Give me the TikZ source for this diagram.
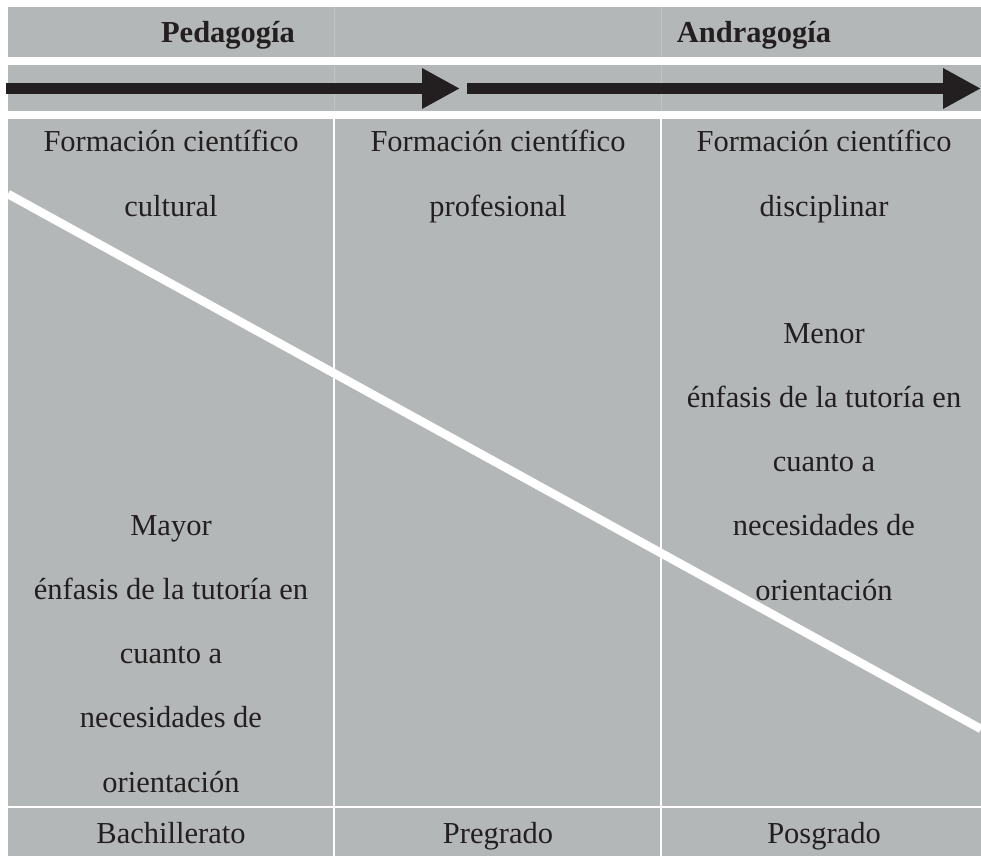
\documentclass[tikz,border=0pt]{standalone}
\usepackage{fontspec}
\setmainfont{Liberation Serif}
\usetikzlibrary{arrows.meta}
\definecolor{tabgray}{RGB}{180,183,184}
\definecolor{ink}{RGB}{35,31,32}
\tikzset{
  cell/.style={fill=tabgray,draw=none},
  celltext/.style={anchor=base,align=center,text=ink,inner sep=0pt,
    font=\fontsize{30.5}{64.2}\selectfont},
  headtext/.style={celltext,font=\fontsize{30.5}{36}\selectfont\bfseries},
  bigarrow/.style={draw=ink,line width=11pt,-{Triangle[length=38pt,width=38pt]}},
  sepline/.style={white,line width=2pt},
  faintline/.style={tabgray!82!white,line width=1pt},
}

\begin{document}
\begin{tikzpicture}[x=1pt,y=-1pt]
\useasboundingbox (0,0) rectangle (981,856);
\fill[white] (0,0) rectangle (981,856);
% rows
\fill[cell] (8,7) rectangle (981,57);
\fill[cell] (8,65) rectangle (981,111);
\fill[cell] (8,119) rectangle (981,806);
\fill[cell] (8,808) rectangle (981,856);
% columns
\draw[faintline] (334,7) -- (334,57);
\draw[faintline] (334,65) -- (334,111);
\draw[faintline] (661,7) -- (661,57);
\draw[faintline] (661,65) -- (661,111);
\draw[sepline] (334,119) -- (334,856);
\draw[sepline] (661,119) -- (661,856);
% diagonal
\begin{scope}
\clip (8,119) rectangle (981,806);
\draw[white,line width=8.5pt] (8,194) -- (981,729);
\end{scope}
% heading
\node[headtext] (ped) at (228,43) {Pedagogía};
\node[headtext] (andra) at (754,43) {Andragogía};
% arrows
\coordinate (arrAs) at (6,88.5);
\coordinate (arrAe) at (460,88.5);
\coordinate (arrBs) at (467,88.5);
\coordinate (arrBe) at (981,88.5);
\draw[bigarrow] (arrAs) -- (arrAe);
\draw[bigarrow] (arrBs) -- (arrBe);
% formacion (base = last line)
\node[celltext] (formA) at (171,216) {Formación científico\\cultural};
\node[celltext] (formB) at (498,216) {Formación científico\\profesional};
\node[celltext] (formC) at (824,216) {Formación científico\\disciplinar};
% enfasis
\node[celltext] (mayor) at (171,792) {Mayor\\énfasis de la tutoría en\\cuanto a\\necesidades de\\orientación};
\node[celltext] (menor) at (824,600) {Menor\\énfasis de la tutoría en\\cuanto a\\necesidades de\\orientación};
% niveles
\node[celltext] (bach) at (171,843) {Bachillerato};
\node[celltext] (pregr) at (498,843) {Pregrado};
\node[celltext] (posgr) at (824,843) {Posgrado};
\end{tikzpicture}
\end{document}
